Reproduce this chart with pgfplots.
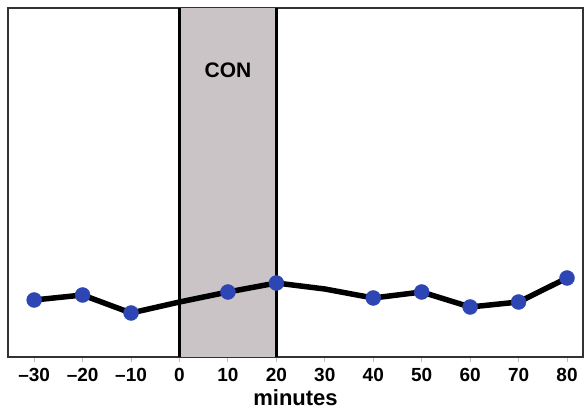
\documentclass[border=0pt]{standalone}
\usepackage{pgfplots}
\pgfplotsset{compat=1.18}
\usepackage{fontspec}
\setmainfont{Liberation Sans}
\definecolor{conshade}{RGB}{202,196,199}
\definecolor{mk}{RGB}{45,70,180}
\definecolor{ax}{RGB}{50,50,50}
\begin{document}
\begin{tikzpicture}
\begin{axis}[
  scale only axis, width=575pt, height=349pt,
  xmin=-35.4, xmax=83.3, ymin=0, ymax=349,
  axis line style={ax, line width=2.5pt},
  xtick={-30,-20,...,80},
  xticklabels={\textendash30,\textendash20,\textendash10,0,10,20,30,40,50,60,70,80},
  ytick=\empty,
  tick pos=bottom, tick align=outside,
  major tick length=5pt,
  tick style={gray!50, line width=1pt},
  xticklabel style={font=\fontsize{19}{19}\selectfont\bfseries, yshift=-3pt},
  xlabel={minutes},
  xlabel style={font=\fontsize{22}{22}\selectfont\bfseries, yshift=-1pt},
  clip=false,
]
\fill[conshade] (axis cs:0,0) rectangle (axis cs:20,349);
\draw[black, line width=2.5pt] (axis cs:0,0) -- (axis cs:0,349);
\draw[black, line width=2.5pt] (axis cs:20,0) -- (axis cs:20,349);
\node[font=\fontsize{21}{21}\selectfont\bfseries] at (axis cs:10,287) {CON};
\addplot[only marks, mark=*, mark size=7.5pt, mk] coordinates {
(-30,57) (-20,62) (-10,44) (10,65) (20,74) (40,59) (50,65) (60,50) (70,55) (80,79)};
\addplot[black, line width=5.5pt, line join=round, mark=none] coordinates {
(-30,57) (-20,62) (-10,44) (0,55) (10,65) (20,74) (30,68) (40,59) (50,65) (60,50) (70,55) (80,79)};
\end{axis}
\path ([shift={(-8pt,-58pt)}]current axis.south west) rectangle ([shift={(2pt,8pt)}]current axis.north east);
\end{tikzpicture}
\end{document}
